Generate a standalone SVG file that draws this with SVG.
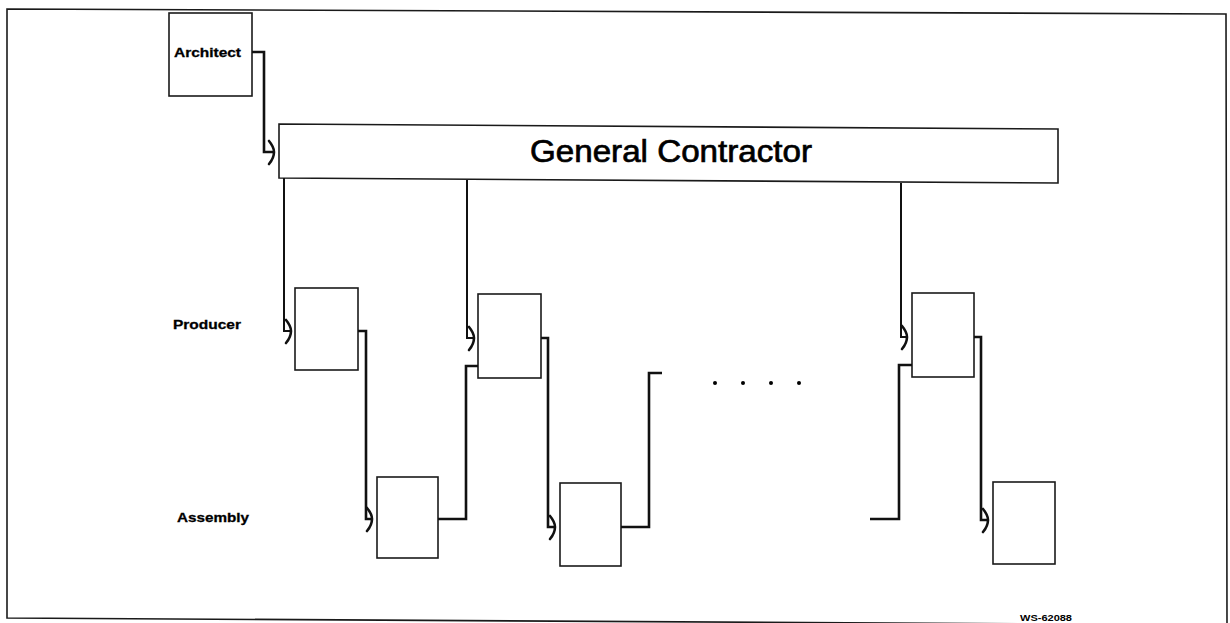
<svg xmlns="http://www.w3.org/2000/svg" width="1230" height="623" viewBox="0 0 1230 623">
  <style>
    .box { fill: none; stroke: #1a1a1a; stroke-width: 1.6; }
    .conn { fill: none; stroke: #111; stroke-width: 2.6; stroke-linejoin: miter; }
    .thin { stroke-width: 2; }
    .lbl { font-family: "Liberation Sans", Arial, sans-serif; font-weight: bold; font-size: 13px; fill: #000; stroke: #000; stroke-width: 0.3; }
    .title { font-family: "Liberation Sans", Arial, sans-serif; font-size: 31px; fill: #000; stroke: #000; stroke-width: 0.7; }
    .tag { font-family: "Liberation Sans", Arial, sans-serif; font-weight: bold; font-size: 9px; fill: #000; }
  </style>
  <defs>
    <marker id="hook" markerUnits="userSpaceOnUse" markerWidth="16" markerHeight="30" viewBox="-8 -15 16 30" refX="0" refY="0" orient="auto" overflow="visible">
      <path d="M -5 -11 Q 0 -5 0 0 Q 0 6 -5 12" fill="none" stroke="#111" stroke-width="2.6" stroke-linecap="round"/>
    </marker>
  </defs>
  <rect width="1230" height="623" fill="#ffffff"/>
  <g id="frame">
    <polygon points="7,9 1226,14 1227,625 7,618" fill="none" stroke="#1a1a1a" stroke-width="1.6"/>
  </g>
  <g id="architect">
    <rect class="box" x="169" y="13" width="83" height="83"/>
    <text class="lbl" x="174" y="57" textLength="67" lengthAdjust="spacingAndGlyphs">Architect</text>
  </g>
  <g id="general-contractor">
    <polygon class="box" points="279,124 1058,129 1058,183 279,178"/>
    <text class="title" x="530" y="162" textLength="282" lengthAdjust="spacingAndGlyphs">General Contractor</text>
  </g>
  <g id="labels">
    <text class="lbl" x="173" y="329" textLength="68" lengthAdjust="spacingAndGlyphs">Producer</text>
    <text class="lbl" x="177" y="522" textLength="72" lengthAdjust="spacingAndGlyphs">Assembly</text>
  </g>
  <g id="producer-1"><rect class="box" x="295" y="288" width="63" height="82"/></g>
  <g id="assembly-1"><rect class="box" x="377" y="477" width="61" height="81"/></g>
  <g id="producer-2"><rect class="box" x="478" y="294" width="63" height="84"/></g>
  <g id="assembly-2"><rect class="box" x="560" y="483" width="61" height="83"/></g>
  <g id="producer-n"><rect class="box" x="912" y="293" width="62" height="84"/></g>
  <g id="assembly-n"><rect class="box" x="993" y="482" width="62" height="82"/></g>
  <g id="ellipsis">
    <circle cx="715" cy="383" r="2" fill="#000"/>
    <circle cx="743" cy="383" r="2" fill="#000"/>
    <circle cx="771" cy="383" r="2" fill="#000"/>
    <circle cx="799" cy="383" r="2" fill="#000"/>
  </g>
  <g id="connectors">
    <path class="conn" d="M 252 52 H 264 V 152 H 274" marker-end="url(#hook)"/>
    <path class="conn thin" d="M 284 178 V 331 H 291" marker-end="url(#hook)"/>
    <path class="conn" d="M 358 331 H 366 V 519 H 372" marker-end="url(#hook)"/>
    <path class="conn" d="M 438 519 H 466 V 366 H 478"/>
    <path class="conn thin" d="M 467 180 V 338 H 474" marker-end="url(#hook)"/>
    <path class="conn" d="M 541 338 H 548 V 527 H 555" marker-end="url(#hook)"/>
    <path class="conn" d="M 621 527 H 649 V 373 H 662"/>
    <path class="conn thin" d="M 901 183 V 337 H 907" marker-end="url(#hook)"/>
    <path class="conn" d="M 974 337 H 981 V 520 H 988" marker-end="url(#hook)"/>
    <path class="conn" d="M 870 519 H 899 V 365 H 912"/>
  </g>
  <text class="tag" x="1020" y="621" textLength="52" lengthAdjust="spacingAndGlyphs">WS-62088</text>
</svg>
